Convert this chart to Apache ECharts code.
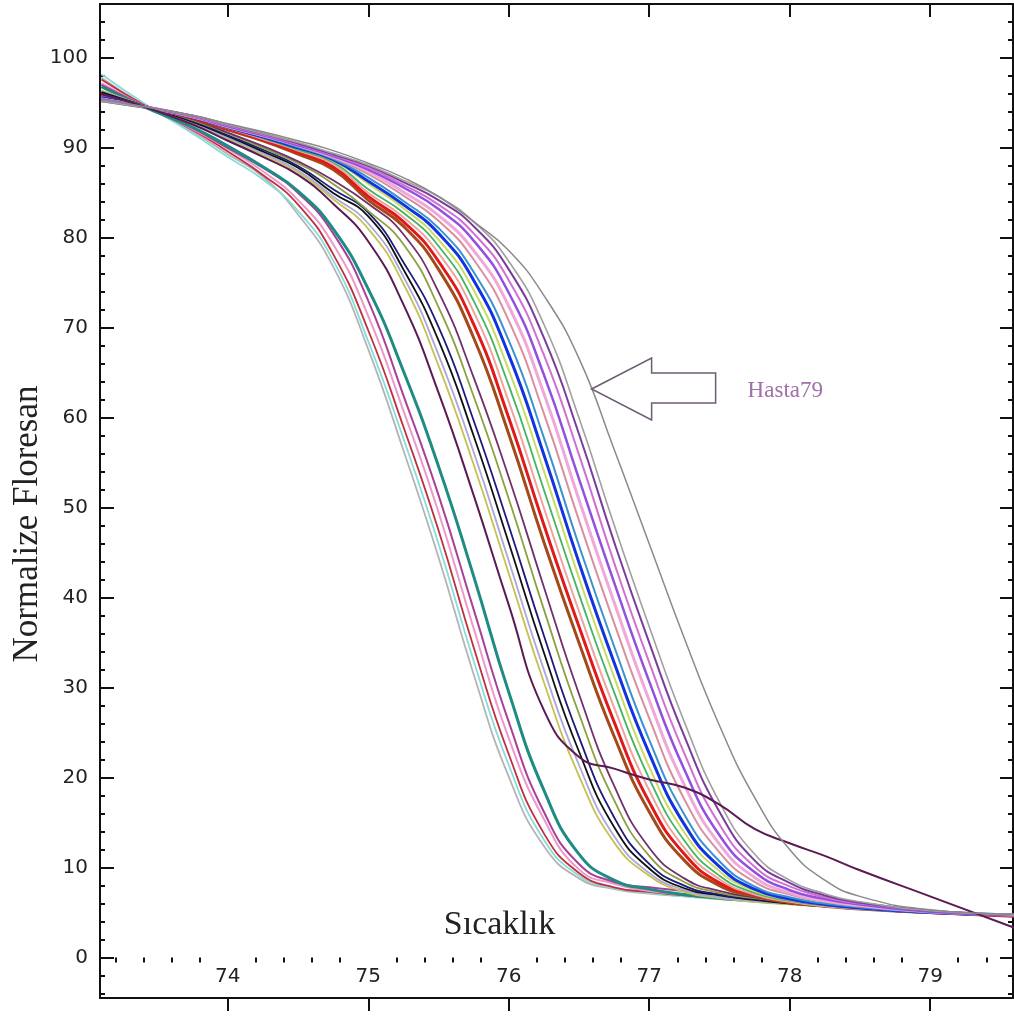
<!DOCTYPE html>
<html>
<head>
<meta charset="utf-8">
<script src="https://cdn.jsdelivr.net/npm/echarts@6.0.0/dist/echarts.min.js"></script>
<style>
  html, body { margin: 0; padding: 0; background: #fff; }
  #chart { width: 1014px; height: 1019px; }
</style>
</head>
<body>
<div id="chart"></div>
<script>
// sıcaklık noktaları (x)
const temps = [73.1, 73.4, 73.75, 74, 74.25, 74.5, 74.75, 75, 75.25, 75.5, 75.75, 76, 76.25, 76.5, 76.75, 77, 77.25, 77.5, 77.75, 78, 78.25, 78.5, 79, 79.6];

// tick labels
const xMajor = [74, 75, 76, 77, 78, 79];
const yMajor = [0, 10, 20, 30, 40, 50, 60, 70, 80, 90, 100];

// normalize floresan, one array per sample
const c01 = [97.8, 94.8, 91.8, 89.3, 86.8, 82.6, 76.8, 67.6, 56.4, 44.5, 31.5, 20.1, 12.4, 8.8, 7.6, 7.1, 6.8, 6.5, 6.2, 6.0, 5.7, 5.5, 5.1, 4.6];
const c02 = [98.2, 95.0, 91.6, 89.0, 86.5, 83.0, 77.5, 68.5, 57.7, 46.0, 33.0, 21.4, 13.1, 9.1, 7.7, 7.2, 6.8, 6.5, 6.2, 6.0, 5.7, 5.5, 5.1, 4.7];
const c03 = [97.6, 94.8, 92.0, 89.6, 87.0, 83.7, 78.2, 69.7, 59.0, 47.5, 34.5, 22.6, 13.8, 9.4, 7.8, 7.3, 6.9, 6.6, 6.3, 6.0, 5.8, 5.5, 5.1, 4.7];
const c04 = [97.2, 94.7, 92.1, 89.9, 87.4, 84.2, 79.3, 71.3, 60.8, 49.5, 36.6, 24.4, 15.4, 9.8, 8.2, 7.4, 7.0, 6.7, 6.4, 6.1, 5.8, 5.6, 5.1, 4.7];
const c05 = [97.0, 94.7, 92.2, 90.0, 87.8, 85.0, 80.5, 73.0, 62.5, 51.4, 38.7, 26.2, 16.2, 10.4, 8.4, 7.8, 7.4, 7.0, 6.6, 6.2, 5.9, 5.6, 5.1, 4.7];
const c06 = [96.8, 94.6, 92.3, 90.2, 87.9, 85.2, 81.0, 74.3, 65.2, 54.6, 42.4, 29.5, 18.6, 11.5, 8.6, 7.6, 7.0, 6.6, 6.3, 6.0, 5.8, 5.5, 5.1, 4.7];
const c07 = [96.0, 94.6, 92.6, 90.8, 89.0, 87.0, 83.8, 79.6, 72.6, 62.8, 51.4, 39.2, 27.5, 22.3, 21.0, 19.8, 18.9, 17.0, 14.3, 12.7, 11.3, 9.7, 6.8, 3.3];
const c08 = [96.4, 94.7, 92.7, 91.0, 89.2, 87.3, 84.3, 81.0, 74.9, 65.8, 54.8, 42.7, 30.6, 20.2, 12.8, 9.1, 7.3, 6.6, 6.2, 5.9, 5.7, 5.5, 5.0, 4.7];
const c09 = [96.3, 94.7, 92.8, 91.1, 89.4, 87.5, 84.6, 81.6, 75.7, 67.0, 56.2, 44.1, 32.0, 21.4, 13.5, 9.4, 7.5, 6.7, 6.3, 6.0, 5.7, 5.5, 5.0, 4.7];
const c10 = [96.2, 94.7, 92.9, 91.3, 89.6, 87.8, 85.0, 82.4, 76.5, 68.6, 58.0, 46.1, 33.9, 22.9, 14.5, 9.9, 7.7, 6.9, 6.4, 6.0, 5.7, 5.5, 5.0, 4.7];
const c11 = [96.0, 94.7, 93.0, 91.4, 89.8, 88.0, 85.4, 82.8, 77.3, 70.1, 59.7, 48.0, 35.8, 24.5, 15.6, 10.4, 8.0, 7.0, 6.5, 6.1, 5.8, 5.5, 5.0, 4.7];
const c12 = [95.9, 94.7, 93.1, 91.6, 90.0, 88.3, 86.0, 83.0, 79.3, 72.3, 62.4, 51.0, 38.7, 27.1, 17.5, 11.3, 8.4, 7.2, 6.6, 6.2, 5.9, 5.6, 5.0, 4.7];
const c13 = [95.8, 94.7, 93.2, 91.7, 90.2, 88.5, 86.4, 83.8, 80.4, 74.0, 64.5, 53.4, 41.2, 29.3, 19.1, 12.2, 8.8, 7.4, 6.7, 6.3, 5.9, 5.6, 5.0, 4.7];
const c14 = [95.8, 94.6, 93.3, 92.0, 90.8, 89.3, 87.6, 84.2, 81.3, 76.5, 68.9, 58.2, 46.2, 35.0, 24.6, 16.2, 10.8, 8.0, 6.8, 6.1, 5.7, 5.4, 5.0, 4.7];
const c15 = [95.7, 94.6, 93.3, 92.1, 90.9, 89.5, 87.9, 84.6, 81.8, 77.4, 70.4, 60.0, 48.1, 36.8, 26.2, 17.3, 11.5, 8.3, 7.0, 6.2, 5.8, 5.5, 5.0, 4.6];
const c16 = [95.7, 94.6, 93.4, 92.2, 91.0, 89.7, 88.2, 85.0, 82.3, 78.3, 71.8, 61.8, 50.0, 38.5, 27.8, 18.6, 12.2, 8.7, 7.0, 6.2, 5.7, 5.4, 5.0, 4.7];
const c17 = [95.6, 94.6, 93.4, 92.2, 91.1, 89.8, 88.4, 85.4, 82.8, 79.1, 73.0, 63.6, 52.0, 40.4, 29.5, 19.9, 13.0, 9.1, 7.2, 6.3, 5.8, 5.5, 5.0, 4.7];
const c18 = [95.6, 94.6, 93.4, 92.3, 91.2, 90.0, 88.6, 86.0, 83.3, 79.8, 74.2, 65.3, 54.1, 42.2, 31.2, 21.2, 13.9, 9.6, 7.4, 6.4, 5.9, 5.5, 5.0, 4.7];
const c19 = [95.6, 94.6, 93.4, 92.3, 91.2, 90.0, 88.7, 86.3, 83.7, 80.5, 75.3, 67.0, 55.9, 43.9, 32.8, 22.7, 14.8, 10.1, 7.6, 6.5, 5.9, 5.5, 5.0, 4.7];
const c20 = [95.5, 94.6, 93.4, 92.3, 91.3, 90.1, 88.8, 86.7, 84.1, 81.1, 76.2, 68.6, 57.8, 45.8, 34.6, 24.2, 15.9, 10.7, 7.9, 6.7, 6.0, 5.6, 5.0, 4.7];
const c21 = [95.5, 94.6, 93.4, 92.3, 91.3, 90.2, 88.9, 87.1, 84.7, 81.9, 77.6, 70.8, 60.5, 48.6, 37.2, 26.6, 17.6, 11.7, 8.4, 7.0, 6.2, 5.7, 5.1, 4.7];
const c22 = [95.4, 94.6, 93.5, 92.4, 91.4, 90.3, 89.0, 87.4, 85.1, 82.5, 78.6, 72.4, 62.7, 50.9, 39.5, 28.6, 19.2, 12.6, 8.9, 7.2, 6.3, 5.8, 5.1, 4.7];
const c23 = [95.4, 94.6, 93.5, 92.4, 91.4, 90.3, 89.1, 87.6, 85.6, 83.2, 79.7, 73.9, 64.8, 53.2, 41.7, 30.7, 20.9, 13.6, 9.5, 7.5, 6.5, 5.9, 5.1, 4.7];
const c24 = [95.3, 94.6, 93.5, 92.5, 91.5, 90.4, 89.2, 87.8, 85.9, 83.7, 80.5, 75.3, 67.0, 55.9, 43.9, 32.8, 22.7, 14.8, 10.1, 7.9, 6.7, 6.0, 5.2, 4.7];
const c25 = [95.2, 94.5, 93.6, 92.6, 91.6, 90.5, 89.3, 88.0, 86.2, 84.2, 81.3, 76.5, 68.9, 58.2, 46.2, 35.0, 24.6, 16.2, 10.8, 8.3, 6.9, 6.1, 5.2, 4.7];
const c26 = [95.2, 94.5, 93.6, 92.6, 91.6, 90.6, 89.4, 88.1, 86.4, 84.6, 81.8, 77.4, 70.4, 60.0, 48.1, 36.8, 26.2, 17.3, 11.5, 8.6, 7.1, 6.2, 5.2, 4.7];
const hasta79 = [95.4, 94.6, 93.6, 92.7, 91.8, 90.8, 89.7, 88.3, 86.7, 84.6, 81.8, 78.6, 73.6, 66.6, 56.5, 46.0, 35.5, 25.8, 17.8, 12.0, 8.6, 6.8, 5.3, 4.8];

// arrow tip (data coords) for the Hasta79 label
const arrowTip = [76.59, 63.2];

// minor ticks every 0.2 (x) and 2 (y)
const xMinor = [];
for (let k = 366; k <= 397; k++) if (k % 5) xMinor.push(k / 5);
const yMinor = [];
for (let k = -2; k <= 52; k++) if (k % 5) yMinor.push(k * 2);

const lines = [
  [c01, '#b4b4b4', 1.8], [c02, '#86dcdc', 1.8], [c03, '#c0303c', 1.8],
  [c04, '#ee98cc', 2], [c05, '#a8409a', 2], [c06, '#1e8c82', 3],
  [c08, '#c8c050', 1.8], [c09, '#a8a8dc', 1.8], [c10, '#111111', 1.8],
  [c11, '#1c1c7a', 1.8], [c12, '#8ca040', 1.8], [c13, '#70306a', 1.8],
  [c14, '#a44a1a', 3], [c15, '#e01a1a', 3], [c16, '#f0a4a0', 2],
  [c17, '#44b464', 1.8], [c18, '#c8dc64', 2], [c19, '#1234e0', 3],
  [c20, '#3a92d2', 2], [c21, '#d8909e', 2], [c22, '#f0a8d8', 3],
  [c23, '#9050e0', 2.5], [c24, '#d070d0', 2], [c25, '#7a3c9c', 2],
  [c26, '#a0a0a0', 1.6], [c07, '#5c1a52', 2], [hasta79, '#8a8a8a', 1.5]
];

const myChart = echarts.init(document.getElementById('chart'));

const axisCommon = {
  type: 'value',
  splitLine: { show: false },
  axisLine: { show: true, onZero: false, lineStyle: { color: '#111', width: 2 } }
};
const xRange = { min: 73.09, max: 79.59 };
const yRange = { min: -4.5, max: 106 };

const options = {
  animation: false,
  backgroundColor: '#fff',
  grid: { left: 100, right: 1, top: 4, bottom: 21, containLabel: false, outerBoundsMode: 'none' },
  xAxis: [
    {
      ...axisCommon, ...xRange, position: 'bottom',
      name: 'Sıcaklık', nameLocation: 'middle', nameGap: -90, nameMoveOverlap: false,
      nameTextStyle: { fontFamily: 'Liberation Serif', fontSize: 34, color: '#222', padding: [0, 114, 0, 0] },
      axisTick: { show: true, inside: false, length: 13, customValues: xMajor, lineStyle: { color: '#111', width: 2 } },
      axisLabel: { show: true, inside: true, margin: 11, customValues: xMajor, fontFamily: 'DejaVu Sans', fontSize: 20, color: '#222' }
    },
    {
      ...axisCommon, ...xRange, position: 'bottom', axisLine: { show: false },
      axisTick: { show: true, inside: false, length: 5, customValues: xMinor, lineStyle: { color: '#111', width: 2 } },
      axisLabel: { show: false }
    },
    {
      ...axisCommon, ...xRange, position: 'top',
      axisTick: { show: true, inside: true, length: 13, customValues: xMajor, lineStyle: { color: '#111', width: 2 } },
      axisLabel: { show: false }
    },
    {
      ...axisCommon, ...xRange, position: 'top', axisLine: { show: false },
      axisTick: { show: true, inside: true, length: 5, customValues: xMinor, lineStyle: { color: '#111', width: 2 } },
      axisLabel: { show: false }
    }
  ],
  yAxis: [
    {
      ...axisCommon, ...yRange, position: 'left',
      name: 'Normalize Floresan', nameLocation: 'middle', nameGap: 55, nameMoveOverlap: false,
      nameTextStyle: { fontFamily: 'Liberation Serif', fontSize: 35, color: '#222', padding: [0, 46, 0, 0] },
      axisTick: { show: true, inside: true, length: 14, customValues: yMajor, lineStyle: { color: '#111', width: 2 } },
      axisLabel: { show: true, margin: 12, customValues: yMajor, fontFamily: 'DejaVu Sans', fontSize: 20, color: '#222' }
    },
    {
      ...axisCommon, ...yRange, position: 'left', axisLine: { show: false },
      axisTick: { show: true, inside: true, length: 5, customValues: yMinor, lineStyle: { color: '#111', width: 2 } },
      axisLabel: { show: false }
    },
    {
      ...axisCommon, ...yRange, position: 'right',
      axisTick: { show: true, inside: true, length: 13, customValues: yMajor, lineStyle: { color: '#111', width: 2 } },
      axisLabel: { show: false }
    },
    {
      ...axisCommon, ...yRange, position: 'right', axisLine: { show: false },
      axisTick: { show: true, inside: true, length: 5, customValues: yMinor, lineStyle: { color: '#111', width: 2 } },
      axisLabel: { show: false }
    }
  ],
  series: lines.map(([vals, color, width]) => ({
    type: 'line',
    xAxisIndex: 0,
    yAxisIndex: 0,
    data: temps.map((t, i) => [t, vals[i]]),
    showSymbol: false,
    smooth: 0.5,
    silent: true,
    lineStyle: { color: color, width: width }
  }))
};
myChart.setOption(options);

// arrow + label pointing at Hasta79
const tip = myChart.convertToPixel({ gridIndex: 0 }, arrowTip);
const tx = tip[0], ty = tip[1];
myChart.setOption({
  graphic: [
    {
      type: 'polygon',
      shape: {
        points: [
          [tx, ty], [tx + 60, ty - 31], [tx + 60, ty - 16], [tx + 124, ty - 16],
          [tx + 124, ty + 14], [tx + 60, ty + 14], [tx + 60, ty + 31]
        ]
      },
      style: { fill: '#fff', stroke: '#6e5c74', lineWidth: 1.5 },
      z: 10
    },
    {
      type: 'text',
      x: tx + 156,
      y: ty + 2,
      style: {
        text: 'Hasta79',
        fontFamily: 'Liberation Serif',
        fontSize: 23,
        fill: '#a070a8',
        textVerticalAlign: 'middle'
      },
      z: 10
    }
  ]
});
</script>
</body>
</html>
